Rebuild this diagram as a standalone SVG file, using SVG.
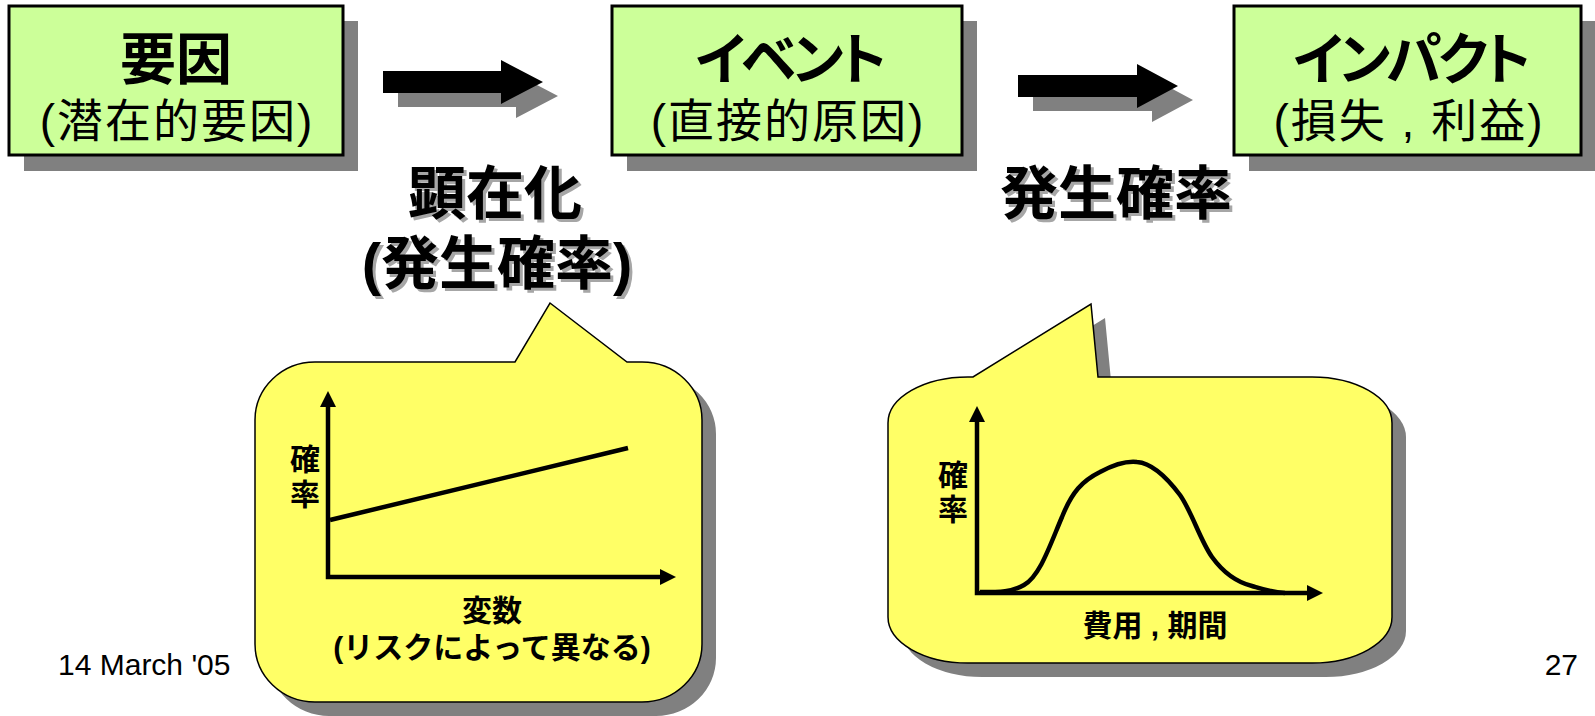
<svg xmlns="http://www.w3.org/2000/svg" width="1595" height="716" viewBox="0 0 1595 716">
<defs>
<style>
.box{fill:#CCFF99;stroke:#000;stroke-width:3}
.shadow{fill:#808080}
.callout{fill:#FFFF66;stroke:#000;stroke-width:1.5}
.t{font-family:"Liberation Sans","Noto Sans CJK JP",sans-serif;fill:#000;text-anchor:middle}
.h1{font-size:56px;font-weight:bold}
.kana{font-feature-settings:"palt";letter-spacing:-4px}
.h2{font-size:46px;letter-spacing:2px}
.big{font-size:58px;font-weight:bold}
.bigs{font-size:58px;font-weight:bold;fill:#A6A6A6}
.lab{font-size:30px;font-weight:bold}
.foot{font-family:"Liberation Sans",sans-serif;font-size:30px;fill:#000}
.axis{fill:none;stroke:#000;stroke-width:4.5}
.curve{fill:none;stroke:#000;stroke-width:4.5;stroke-linejoin:round}
</style>
</defs>
<rect width="1595" height="716" fill="#fff"/>

<g id="node-youin">
<rect class="shadow" x="24" y="21" width="334" height="150"/>
<rect class="box" x="9" y="6" width="334" height="149"/>
<text class="t h1" x="176" y="79">要因</text>
<text class="t h2" x="177" y="137">(潜在的要因)</text>
</g>

<g id="node-event">
<rect class="shadow" x="627" y="21" width="350" height="150"/>
<rect class="box" x="612" y="6" width="350" height="149"/>
<text class="t h1 kana" x="789" y="79">イベント</text>
<text class="t h2" x="788" y="137">(直接的原因)</text>
</g>

<g id="node-impact">
<rect class="shadow" x="1249" y="21" width="347" height="150"/>
<rect class="box" x="1234" y="6" width="347" height="149"/>
<text class="t h1 kana" x="1410" y="79">インパクト</text>
<text class="t h2" x="1409" y="137">(損失 , 利益)</text>
</g>

<g id="connectors">
<polygon class="shadow" points="398,85 516,85 516,74 558,96 516,118 516,107 398,107"/>
<polygon fill="#000" points="383,71 501,71 501,60 543,82 501,104 501,93 383,93"/>
<polygon class="shadow" points="1033,89 1152,89 1152,78 1193,100 1152,122 1152,111 1033,111"/>
<polygon fill="#000" points="1018,75 1137,75 1137,64 1178,86 1137,108 1137,97 1018,97"/>
</g>

<g id="label-kenzaika">
<text class="t bigs" x="498" y="217">顕在化</text>
<text class="t big" x="495" y="214">顕在化</text>
<text class="t bigs" x="500" y="287">(発生確率)</text>
<text class="t big" x="497" y="284">(発生確率)</text>
</g>

<g id="label-hassei">
<text class="t bigs" x="1119" y="217">発生確率</text>
<text class="t big" x="1116" y="214">発生確率</text>
</g>

<g id="callout-1">
<path class="shadow" transform="translate(14,14)" d="M315,362 L515,362 L550,303 L627,362 L642,362 A60,58 0 0 1 702,420 L702,644 A60,58 0 0 1 642,702 L315,702 A60,58 0 0 1 255,644 L255,420 A60,58 0 0 1 315,362 Z"/>
<path class="callout" d="M315,362 L515,362 L550,303 L627,362 L642,362 A60,58 0 0 1 702,420 L702,644 A60,58 0 0 1 642,702 L315,702 A60,58 0 0 1 255,644 L255,420 A60,58 0 0 1 315,362 Z"/>
<polyline class="axis" points="328,407 328,577 660,577"/>
<polygon points="320,407 328,391 336,407" fill="#000"/>
<polygon points="660,569 676,577 660,585" fill="#000"/>
<line class="axis" x1="330" y1="520" x2="628" y2="448"/>
<text class="t lab" x="305" y="470">確</text>
<text class="t lab" x="305" y="505">率</text>
<text class="t lab" x="492" y="621">変数</text>
<text class="t lab" x="492" y="658">(リスクによって異なる)</text>
</g>

<g id="callout-2">
<path class="shadow" transform="translate(14,14)" d="M968,377 L973,377 L1091,304 L1098,377 L1312,377 A80,46 0 0 1 1392,423 L1392,617 A80,46 0 0 1 1312,663 L968,663 A80,46 0 0 1 888,617 L888,423 A80,46 0 0 1 968,377 Z"/>
<path class="callout" d="M968,377 L973,377 L1091,304 L1098,377 L1312,377 A80,46 0 0 1 1392,423 L1392,617 A80,46 0 0 1 1312,663 L968,663 A80,46 0 0 1 888,617 L888,423 A80,46 0 0 1 968,377 Z"/>
<polyline class="axis" points="977,422 977,593 1307,593"/>
<polygon points="969,422 977,406 985,422" fill="#000"/>
<polygon points="1307,585 1323,593 1307,601" fill="#000"/>
<path class="curve" d="M980,592 C1000,592 1012,592 1024,585 C1040,576 1050,545 1062,517 C1072,492 1082,481 1100,472 C1115,464 1128,461 1137,462 C1150,463 1165,475 1180,495 C1192,512 1200,540 1212,557 C1225,575 1240,583 1252,586 C1262,589 1270,592 1285,593"/>
<text class="t lab" x="953" y="486">確</text>
<text class="t lab" x="953" y="520">率</text>
<text class="t lab" x="1155" y="636">費用 , 期間</text>
</g>

<text class="foot" x="58" y="675">14 March '05</text>
<text class="foot" x="1578" y="675" text-anchor="end">27</text>
</svg>
